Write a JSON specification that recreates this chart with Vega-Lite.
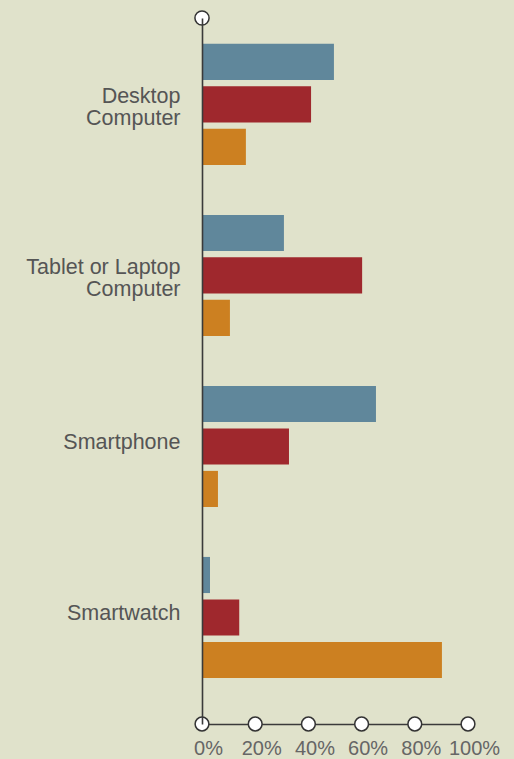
{
  "$schema": "https://vega.github.io/schema/vega-lite/v6.json",
  "autosize": {"type": "none"},
  "width": 266,
  "height": 706,
  "padding": {"left": 202, "top": 18, "right": 46, "bottom": 35},
  "background": "#e0e2cb",
  "config": {
    "view": {"stroke": null},
    "font": "Liberation Sans"
  },
  "datasets": {
    "bars": [
      {"device": "Desktop Computer", "series": "A", "share": 49.6},
      {"device": "Desktop Computer", "series": "B", "share": 41},
      {"device": "Desktop Computer", "series": "C", "share": 16.5},
      {"device": "Tablet or Laptop Computer", "series": "A", "share": 30.8},
      {"device": "Tablet or Laptop Computer", "series": "B", "share": 60.2},
      {"device": "Tablet or Laptop Computer", "series": "C", "share": 10.5},
      {"device": "Smartphone", "series": "A", "share": 65.4},
      {"device": "Smartphone", "series": "B", "share": 32.7},
      {"device": "Smartphone", "series": "C", "share": 6},
      {"device": "Smartwatch", "series": "A", "share": 3},
      {"device": "Smartwatch", "series": "B", "share": 14},
      {"device": "Smartwatch", "series": "C", "share": 90.2}
    ],
    "ticks": [{"v": 0}, {"v": 20}, {"v": 40}, {"v": 60}, {"v": 80}, {"v": 100}],
    "top": [{"v": 0}]
  },
  "layer": [
    {
      "data": {"name": "bars"},
      "mark": {"type": "bar"},
      "encoding": {
        "y": {
          "field": "device",
          "type": "nominal",
          "sort": ["Desktop Computer", "Tablet or Laptop Computer", "Smartphone", "Smartwatch"],
          "scale": {"paddingInner": 0.292, "paddingOuter": 0.21, "align": 0.36},
          "axis": {
            "title": null,
            "ticks": false,
            "domainColor": "#3a3a3a",
            "domainWidth": 1.6,
            "zindex": 1,
            "labelPadding": 22,
            "labelFontSize": 21.5,
            "labelColor": "#555555",
            "labelLineHeight": 22,
            "labelOffset": {"condition": {"test": "indexof(datum.value, ' Computer') > 0", "value": -7}, "value": -3},
            "labelExpr": "indexof(datum.label, ' Computer') > 0 ? [replace(datum.label, ' Computer', ''), 'Computer'] : datum.label"
          }
        },
        "yOffset": {
          "field": "series",
          "type": "nominal",
          "scale": {"paddingInner": 0.15, "paddingOuter": 0}
        },
        "x": {
          "field": "share",
          "type": "quantitative",
          "scale": {"domain": [0, 100], "nice": false},
          "axis": {
            "title": null,
            "values": [0, 20, 40, 60, 80, 100],
            "ticks": false,
            "grid": false,
            "domainColor": "#3a3a3a",
            "domainWidth": 1.6,
            "labelPadding": 14,
            "labelFontSize": 20,
            "labelColor": "#666666",
            "labelExpr": "datum.value + '%'",
            "labelOffset": 6,
            "labelFlush": false
          }
        },
        "color": {
          "field": "series",
          "type": "nominal",
          "scale": {"domain": ["A", "B", "C"], "range": ["#60879b", "#9f282d", "#cc8021"]},
          "legend": null
        }
      }
    },
    {
      "data": {"name": "ticks"},
      "mark": {"type": "point", "filled": false, "fill": "white", "stroke": "#333333", "strokeWidth": 1.5, "size": 190, "opacity": 1},
      "encoding": {
        "x": {"field": "v", "type": "quantitative"},
        "y": {"value": "height"}
      }
    },
    {
      "data": {"name": "top"},
      "mark": {"type": "point", "filled": false, "fill": "white", "stroke": "#333333", "strokeWidth": 1.5, "size": 200, "opacity": 1},
      "encoding": {
        "x": {"field": "v", "type": "quantitative"},
        "y": {"value": 0}
      }
    }
  ]
}
